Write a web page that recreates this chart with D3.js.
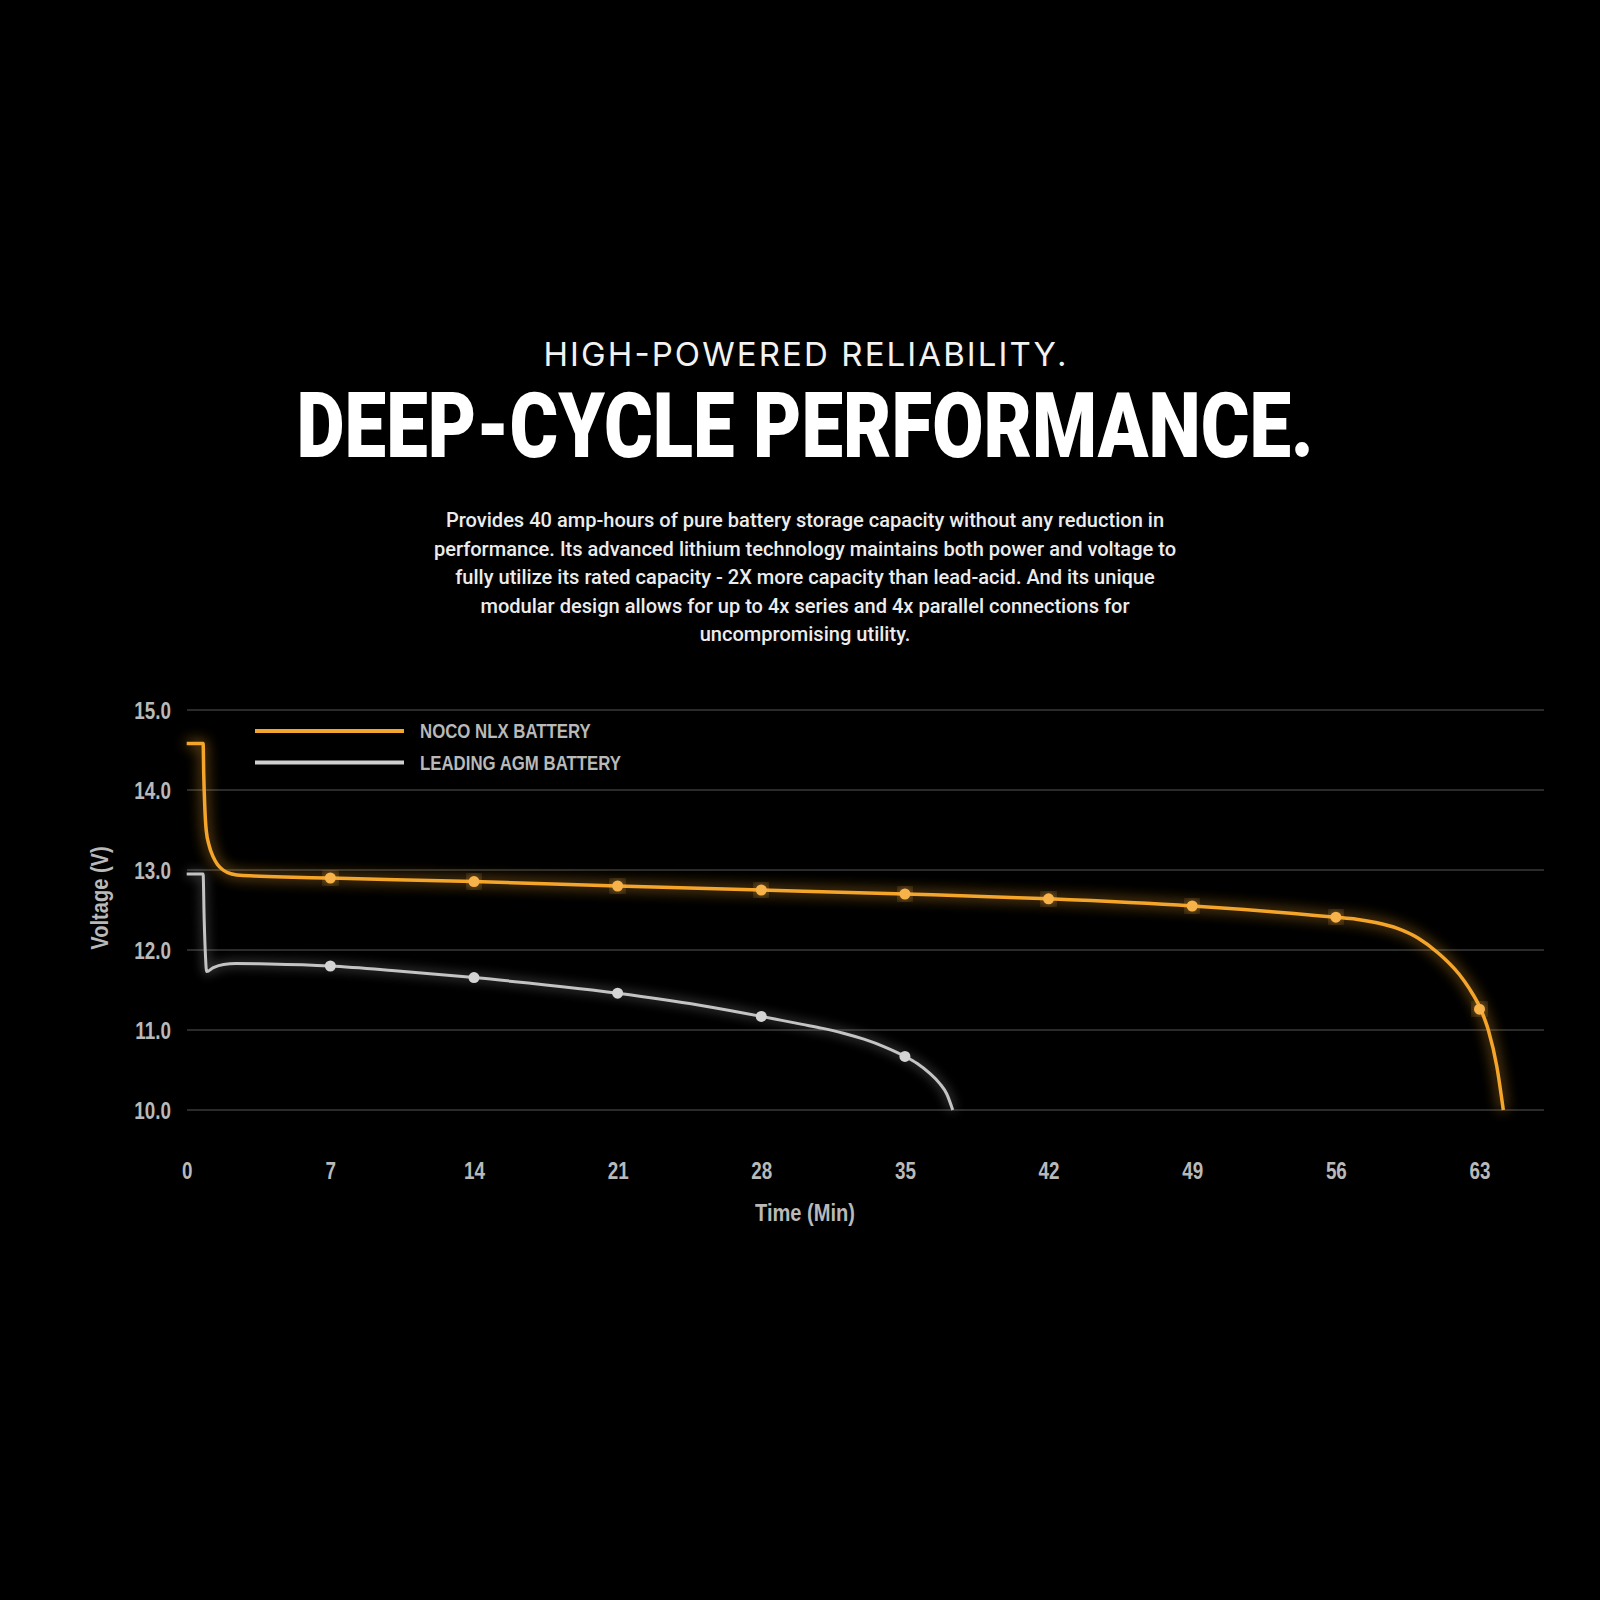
<!DOCTYPE html>
<html>
<head>
<meta charset="utf-8">
<script src="https://cdn.jsdelivr.net/npm/d3@7"></script>
<style>
  html, body { margin: 0; padding: 0; background: #000; }
  svg { display: block; }
</style>
</head>
<body>
<svg id="chart" width="1600" height="1600"></svg>
<script>
// ---------- DATA ----------
const kicker = "HIGH-POWERED RELIABILITY.";
const headline = "DEEP-CYCLE PERFORMANCE.";
const bodyLines = [
  "Provides 40 amp-hours of pure battery storage capacity without any reduction in",
  "performance. Its advanced lithium technology maintains both power and voltage to",
  "fully utilize its rated capacity - 2X more capacity than lead-acid. And its unique",
  "modular design allows for up to 4x series and 4x parallel connections for",
  "uncompromising utility."
];
const seriesNames = ["NOCO NLX BATTERY", "LEADING AGM BATTERY"];
const xTicks = [0, 7, 14, 21, 28, 35, 42, 49, 56, 63];
const yTicks = [10, 11, 12, 13, 14, 15];
const xTitle = "Time (Min)";
const yTitle = "Voltage (V)";

// NOCO NLX curve (minutes, volts)
const nocoTime    = [0, 0.8, 0.83, 0.88, 0.95, 1.1, 1.28, 1.5, 1.77, 2.2, 2.75, 7, 14, 21, 28, 35, 42, 49, 56, 57, 58, 59, 60, 61, 62, 62.5, 63.06, 63.43, 63.84, 64.16];
const nocoVoltage = [14.58, 14.58, 14.2, 13.8, 13.5, 13.3, 13.17, 13.07, 13.0, 12.95, 12.93, 12.90, 12.855, 12.80, 12.75, 12.70, 12.64, 12.55, 12.41, 12.385, 12.34, 12.27, 12.15, 11.96, 11.70, 11.52, 11.26, 11.0, 10.55, 10.0];
const nocoDotTime    = [7, 14, 21, 28, 35, 42, 49, 56, 63];
const nocoDotVoltage = [12.90, 12.855, 12.80, 12.75, 12.70, 12.64, 12.55, 12.41, 11.26];

// Leading AGM curve
const agmTime    = [0, 0.8, 0.85, 0.92, 0.97, 1.3, 1.8, 2.4, 4, 7, 10, 14, 21, 25, 28, 29, 30, 31, 32, 33, 34, 35, 35.6, 36.2, 36.7, 37.04, 37.33];
const agmVoltage = [12.95, 12.95, 12.4, 11.9, 11.73, 11.78, 11.82, 11.83, 11.825, 11.80, 11.745, 11.655, 11.46, 11.31, 11.17, 11.12, 11.07, 11.02, 10.96, 10.885, 10.79, 10.67, 10.58, 10.46, 10.33, 10.20, 10.0];
const agmDotTime    = [7, 14, 21, 28, 35];
const agmDotVoltage = [11.80, 11.655, 11.46, 11.17, 10.67];

// ---------- STYLE ----------
const ORANGE = "#f4a52c";
const ORANGE_DOT = "#f7b24a";
const GREY = "#c4c4c4";
const GREY_DOT = "#d4d4d4";
const LABEL = "#b9b9b9";

const svg = d3.select("#chart");
svg.append("rect").attr("width", 1600).attr("height", 1600).attr("fill", "#000");

// detect narrow font
function measure(family, weight) {
  const t = svg.append("text").attr("font-family", family).attr("font-weight", weight)
    .attr("font-size", 40).text("LEADING AGM BATTERY 15.0");
  const w = t.node().getComputedTextLength();
  t.remove();
  return w;
}
const narrowW = measure("'Liberation Sans Narrow'", 700);
const regW = measure("'Liberation Sans'", 700);
const hasNarrow = narrowW < regW * 0.92;
const COND = hasNarrow ? "'Liberation Sans Narrow', sans-serif" : "'Liberation Sans', sans-serif";
const squeeze = hasNarrow ? 1 : 0.82;

const defs = svg.append("defs");
function glow(id, sd, op) {
  const f = defs.append("filter").attr("id", id)
    .attr("x", "-20%").attr("y", "-20%").attr("width", "140%").attr("height", "140%");
  f.append("feGaussianBlur").attr("in", "SourceGraphic").attr("stdDeviation", sd).attr("result", "b");
  f.append("feComponentTransfer").attr("in", "b").attr("result", "b2")
    .append("feFuncA").attr("type", "linear").attr("slope", op);
  const m = f.append("feMerge");
  m.append("feMergeNode").attr("in", "b2");
  m.append("feMergeNode").attr("in", "SourceGraphic");
}
glow("glowO", 7, 1.0);
glow("glowG", 6, 0.7);

// ---------- HEADINGS ----------
const cx = 805;
svg.append("text").attr("x", cx).attr("y", 366)
  .attr("text-anchor", "middle")
  .attr("font-family", "Inter, 'Noto Sans', sans-serif").attr("font-weight", 400)
  .attr("font-size", 33).attr("fill", "#f2f2f2")
  .attr("textLength", 523).attr("lengthAdjust", "spacing")
  .text(kicker);

svg.append("text").attr("x", cx).attr("y", 457)
  .attr("text-anchor", "middle")
  .attr("font-family", "Roboto, 'Liberation Sans', sans-serif").attr("font-weight", 900)
  .attr("font-size", 91).attr("fill", "#ffffff")
  .attr("textLength", 1017).attr("lengthAdjust", "spacingAndGlyphs")
  .text(headline);

const bodyG = svg.append("g");
const bodyTexts = bodyG.selectAll("text").data(bodyLines).join("text")
  .attr("x", cx).attr("y", (d, i) => 527 + i * 28.6)
  .attr("text-anchor", "middle")
  .attr("font-family", "Roboto, 'Noto Sans', sans-serif").attr("font-weight", 500)
  .attr("font-size", 18).attr("fill", "#ececec")
  .text(d => d);
const w2 = bodyTexts.filter((d, i) => i === 1).node().getComputedTextLength();
bodyTexts.attr("font-size", 18 * 743 / w2);

// ---------- SCALES ----------
const x = d3.scaleLinear().domain([0, 63]).range([186.7, 1479.5]);
const y = d3.scaleLinear().domain([10, 15]).range([1110, 710]);
const gridX0 = 187, gridX1 = 1544;

// grid
svg.append("g").selectAll("line").data(yTicks).join("line")
  .attr("x1", gridX0).attr("x2", gridX1)
  .attr("y1", d => y(d)).attr("y2", d => y(d))
  .attr("stroke", "#2b2b2b").attr("stroke-width", 2);

// y axis labels
const yAxis = d3.axisLeft(y).tickValues(yTicks).tickFormat(d3.format(".1f")).tickSize(0).tickPadding(0);
const yg = svg.append("g").attr("transform", `translate(171,0)`).call(yAxis);
yg.select(".domain").remove();
yg.selectAll("text")
  .attr("font-family", COND).attr("font-weight", 700).attr("font-size", 23)
  .attr("fill", LABEL).attr("dy", "0.35em")
  .attr("transform", `scale(${squeeze},1)`);

// x axis labels
const xAxis = d3.axisBottom(x).tickValues(xTicks).tickFormat(d3.format("d")).tickSize(0).tickPadding(0);
const xg = svg.append("g").attr("transform", `translate(0,1171)`).call(xAxis);
xg.select(".domain").remove();
xg.selectAll("text")
  .attr("font-family", COND).attr("font-weight", 700).attr("font-size", 23)
  .attr("fill", LABEL).attr("dy", "0.35em").attr("y", 0)
  .attr("transform", `scale(${squeeze},1)`);

// axis titles
svg.append("text")
  .attr("transform", `translate(805,1212) scale(${squeeze},1)`)
  .attr("text-anchor", "middle").attr("dy", "0.35em")
  .attr("font-family", COND).attr("font-weight", 700).attr("font-size", 24.5)
  .attr("fill", LABEL).text(xTitle);
svg.append("text")
  .attr("transform", `translate(99,898) rotate(-90) scale(${squeeze},1)`)
  .attr("text-anchor", "middle").attr("dy", "0.35em")
  .attr("font-family", COND).attr("font-weight", 700).attr("font-size", 24.5)
  .attr("fill", LABEL).text(yTitle);

// ---------- LINES ----------
const line = d3.line().x(d => x(d[0])).y(d => y(d[1])).curve(d3.curveMonotoneX);
const agmData = agmTime.map((t, i) => [t, agmVoltage[i]]);
const nocoData = nocoTime.map((t, i) => [t, nocoVoltage[i]]);

svg.append("path").datum(agmData).attr("d", line)
  .attr("fill", "none").attr("stroke", GREY).attr("stroke-width", 3)
  .attr("filter", "url(#glowG)");
svg.append("path").datum(nocoData).attr("d", line)
  .attr("fill", "none").attr("stroke", ORANGE).attr("stroke-width", 3.5)
  .attr("filter", "url(#glowO)");

svg.append("g").selectAll("circle").data(agmDotTime.map((t, i) => [t, agmDotVoltage[i]])).join("circle")
  .attr("cx", d => x(d[0])).attr("cy", d => y(d[1])).attr("r", 5.5)
  .attr("fill", GREY_DOT);
svg.append("g").selectAll("circle").data(nocoDotTime.map((t, i) => [t, nocoDotVoltage[i]])).join("circle")
  .attr("cx", d => x(d[0])).attr("cy", d => y(d[1])).attr("r", 5.5)
  .attr("fill", ORANGE_DOT).attr("filter", "url(#glowO)");

// ---------- LEGEND ----------
const legendColors = [ORANGE, "#cfcfcf"];
const lg = svg.append("g").selectAll("g").data(seriesNames).join("g")
  .attr("transform", (d, i) => `translate(255,${731 + i * 31.5})`);
lg.append("line").attr("x1", 0).attr("x2", 149).attr("y1", 0).attr("y2", 0)
  .attr("stroke", (d, i) => legendColors[i]).attr("stroke-width", 4);
lg.append("text")
  .attr("transform", `translate(165,0) scale(${squeeze},1)`)
  .attr("dy", "0.35em")
  .attr("font-family", COND).attr("font-weight", 700).attr("font-size", 20.5)
  .attr("fill", LABEL).text(d => d);
</script>
</body>
</html>
